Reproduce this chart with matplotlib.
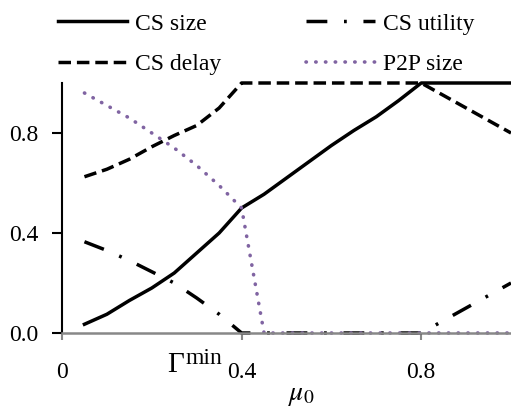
import matplotlib
matplotlib.use('Agg')
from matplotlib import pyplot as plt

# data
mu0 = [0.05, 0.1, 0.15, 0.2, 0.25, 0.3, 0.35, 0.4, 0.45, 0.5,
       0.55, 0.6, 0.65, 0.7, 0.75, 0.8, 0.85, 0.9, 0.95, 1.0]
cs_size = [0.035, 0.075, 0.13, 0.18, 0.24, 0.32, 0.40, 0.50, 0.555, 0.62,
           0.685, 0.75, 0.81, 0.865, 0.93, 1.0, 1.0, 1.0, 1.0, 1.0]
cs_delay = [0.625, 0.655, 0.695, 0.745, 0.79, 0.83, 0.90, 1.0, 1.0, 1.0,
            1.0, 1.0, 1.0, 1.0, 1.0, 1.0, 0.95, 0.90, 0.85, 0.80]
cs_utility = [0.365, 0.33, 0.29, 0.245, 0.20, 0.14, 0.075, 0.0, 0.0, 0.0,
              0.0, 0.0, 0.0, 0.0, 0.0, 0.0, 0.05, 0.10, 0.15, 0.20]
p2p_size = [0.96, 0.91, 0.86, 0.80, 0.74, 0.67, 0.59, 0.50, 0.0, 0.0,
            0.0, 0.0, 0.0, 0.0, 0.0, 0.0, 0.0, 0.0, 0.0, 0.0]

xticks = [0, 0.4, 0.8]
xticklabels = ['0', '0.4', '0.8']
yticks = [0.0, 0.4, 0.8]
yticklabels = ['0.0', '0.4', '0.8']

plt.rcParams['font.family'] = ['Liberation Serif', 'DejaVu Serif']
plt.rcParams['mathtext.fontset'] = 'stix'

fig = plt.figure(figsize=(5.11, 4.07), dpi=100)
ax = fig.add_axes([62 / 511, 74 / 407, 449 / 511, 250 / 407])

lw = 2.5
l1, = ax.plot(mu0, cs_size, color='black', lw=lw, ls='-', clip_on=False,
              solid_joinstyle='round', label='CS size')
l2, = ax.plot(mu0, cs_delay, color='black', lw=lw, ls=(0, (3.6, 1.7)),
              clip_on=False, label='CS delay')
l3, = ax.plot(mu0, cs_utility, color='black', lw=lw, ls=(0, (6, 4.8, 0.8, 4.8)),
              clip_on=False, label='CS utility')
l4, = ax.plot(mu0, p2p_size, color='#8064A2', lw=2.6, ls=(0, (0.1, 2.6)),
              dash_capstyle='round', clip_on=False, label='P2P size')

ax.set_xlim(0, 1.0)
ax.set_ylim(0, 1.0)
ax.set_xticks(xticks)
ax.set_xticklabels(xticklabels, fontsize=17)
ax.set_yticks(yticks)
ax.set_yticklabels(yticklabels, fontsize=17)

for side in ['top', 'right']:
    ax.spines[side].set_visible(False)
ax.spines['left'].set_color('black')
ax.spines['left'].set_linewidth(1.5)
ax.spines['bottom'].set_color('#888888')
ax.spines['bottom'].set_linewidth(1.8)
ax.tick_params(axis='y', length=7, width=1.5, color='black', pad=10)
ax.tick_params(axis='x', length=5, width=1.5, color='#888888', pad=16)

# x label, sits a bit right of the axis centre in the reference
fig.text(288 / 511, (407 - 400) / 407, r'$\mu_0$', fontsize=20,
         ha='left', va='baseline')
# Gamma^min annotation, placed in pixel terms below the axis
fig.text(167 / 511, (407 - 372) / 407, '\u0393', fontsize=21,
         ha='left', va='baseline')
fig.text(186 / 511, (407 - 364) / 407, 'min', fontsize=17,
         ha='left', va='baseline')

fig.legend(handles=[l1, l2, l3, l4], ncol=2, loc='upper left',
           bbox_to_anchor=(37 / 511, 1.02), frameon=False, fontsize=17,
           handlelength=2.9, columnspacing=3.6, labelspacing=0.8,
           handletextpad=0.35)

plt.savefig('out.png', dpi=100)
